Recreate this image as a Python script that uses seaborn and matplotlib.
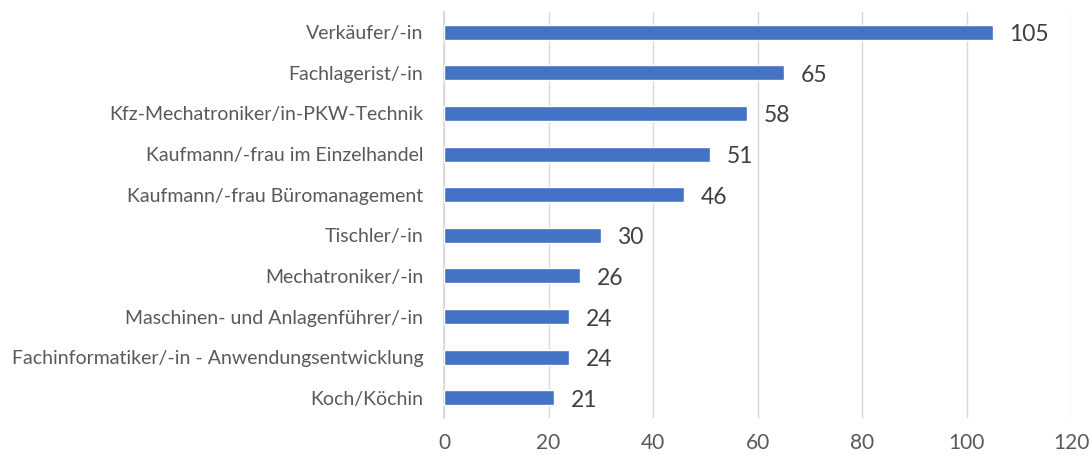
import pandas as pd
import seaborn as sns
import matplotlib.pyplot as plt

# Ausbildungsberufe und Anzahl
berufe = [
    "Verkäufer/-in",
    "Fachlagerist/-in",
    "Kfz-Mechatroniker/in-PKW-Technik",
    "Kaufmann/-frau im Einzelhandel",
    "Kaufmann/-frau Büromanagement",
    "Tischler/-in",
    "Mechatroniker/-in",
    "Maschinen- und Anlagenführer/-in",
    "Fachinformatiker/-in - Anwendungsentwicklung",
    "Koch/Köchin",
]
anzahl = [105, 65, 58, 51, 46, 30, 26, 24, 24, 21]
x_ticks = [0, 20, 40, 60, 80, 100, 120]

df = pd.DataFrame({"beruf": berufe, "anzahl": anzahl})

sns.set_style("white")
plt.rcParams['font.family'] = ['Lato', 'DejaVu Sans']

fig = plt.figure(figsize=(10.92, 4.55), dpi=100)
ax = fig.add_axes([0.4066, 0.081, 0.5742, 0.893])

sns.barplot(data=df, x="anzahl", y="beruf", color="#4472C4", width=0.37,
            saturation=1, ax=ax, zorder=3)

# Werte an die Balken schreiben
for i, v in enumerate(anzahl):
    ax.text(v + 3.2, i + 0.06, str(v), va="center", ha="left", fontsize=16.5, color="#404040")

ax.set_xlim(0, 120)
ax.set_xticks(x_ticks)
ax.set_xlabel("")
ax.set_ylabel("")
ax.grid(axis="x", color="#D9D9D9", linewidth=1, zorder=0)
for s in ["top", "right", "bottom"]:
    ax.spines[s].set_visible(False)
ax.spines["left"].set_color("#D9D9D9")
ax.spines["left"].set_linewidth(1.2)
ax.tick_params(axis="x", length=0, labelsize=15, labelcolor="#595959", pad=11)
ax.tick_params(axis="y", length=0, labelsize=14, labelcolor="#595959", pad=15)

plt.savefig("out.png", dpi=100)
